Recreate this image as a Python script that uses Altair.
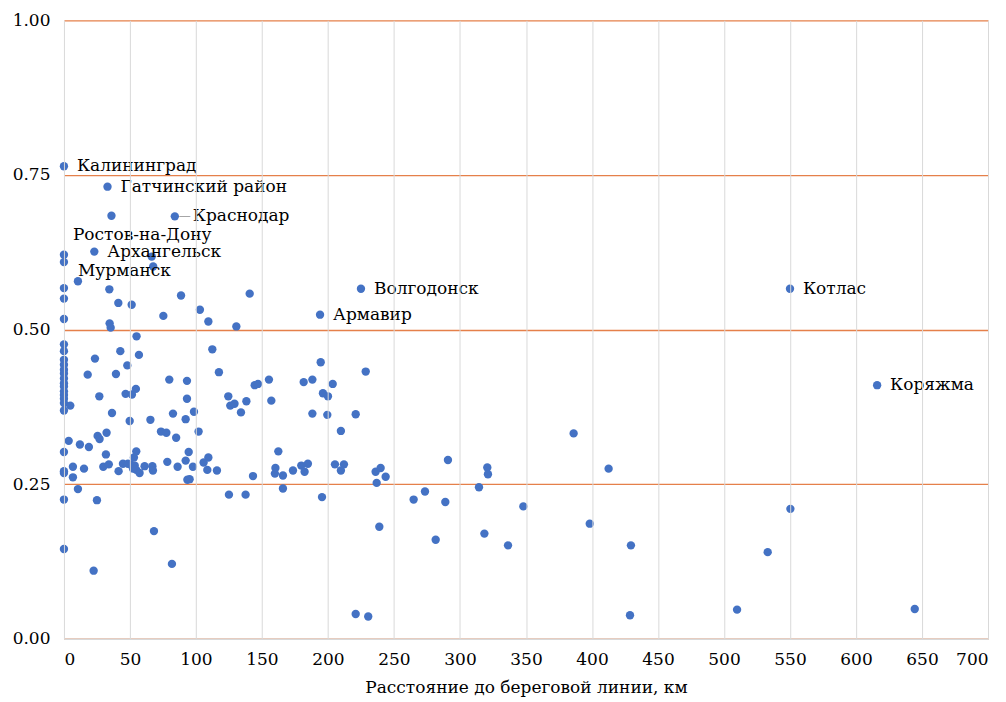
import altair as alt
import pandas as pd

# Labelled cities
lab_names = ["Калининград", "Гатчинский район", "Краснодар", "Ростов-на-Дону", "Мурманск",
             "Архангельск", "Волгодонск", "Армавир", "Котлас", "Коряжма"]
lab_x = [0, 33, 84, 0, 0, 23, 225, 194, 550, 616]
lab_y = [0.764, 0.731, 0.683, 0.621, 0.609, 0.626, 0.566, 0.524, 0.566, 0.410]

# Unlabelled points
pt_x = [0, 0, 0, 0, 0, 0, 0, 0, 0, 0, 0, 0, 0, 0, 0, 0, 0, 0, 0, 0, 0, 0,
        36, 66.5, 67.6, 10.6, 34.4, 41.2, 51.3, 88.7, 140.7, 103, 75.3, 109.4, 130.6, 34.6, 35.4, 55,
        4.8, 3.6, 6.8, 6.8, 10.6, 15.2, 12.1, 18.9, 18, 23.5, 26.8, 25.5, 27, 32.3, 31.8, 29.8, 34, 25,
        36.4, 39.4, 42.7, 48, 46.7, 51.5, 54.5, 56.8, 49.8, 41.4, 44.7, 48.5, 53, 54.8,
        51, 53.6, 54.8, 57.3, 61.1, 67, 67.4, 52.3,
        65.5, 79.8, 73.5, 77.6, 82.6, 85, 78.3, 86.1, 93.2, 93.2, 92.2, 98.5, 102, 94.5, 92.2, 97.7,
        93.5, 95.2, 112.4, 117.4, 109.4, 105.8, 108.6, 115.9, 124.5, 126, 129.2, 138.2, 134.1, 125,
        137.6, 143.2, 144.5, 147, 155.3, 157.1, 162.4, 160.2, 159.8, 165.9, 165.9, 173.5, 179.8,
        182.3, 184.8, 181.6, 188.2, 194.5, 188.2, 195.5, 196.2, 200, 199.5, 203.6, 221, 209.8,
        205.3, 212.1, 209.8, 228.6,
        386.1, 290.9, 236.1, 239.9, 243.7, 236.9, 238.9, 221, 230.5, 264.9, 273.5, 288.9, 281.6,
        314.4, 320.7, 321.2, 318.5, 336.4, 348, 398.3, 412.6, 429.5, 428.8,
        550.3, 533.1, 509.9, 644.5, 68.2, 22.5, 81.8]
pt_y = [0.567, 0.550, 0.517, 0.476, 0.465, 0.451, 0.443, 0.435, 0.429, 0.421, 0.413, 0.408,
        0.400, 0.394, 0.388, 0.381, 0.369, 0.302, 0.271, 0.268, 0.225, 0.145,
        0.684, 0.618, 0.602, 0.578, 0.565, 0.543, 0.540, 0.555, 0.558, 0.532, 0.522, 0.513, 0.505,
        0.510, 0.503, 0.489,
        0.377, 0.320, 0.278, 0.261, 0.242, 0.275, 0.314, 0.310, 0.427, 0.453, 0.392, 0.328, 0.323,
        0.333, 0.298, 0.278, 0.282, 0.224,
        0.365, 0.428, 0.465, 0.442, 0.396, 0.395, 0.404, 0.459, 0.352, 0.271, 0.283, 0.283, 0.293, 0.303,
        0.281, 0.280, 0.273, 0.268, 0.279, 0.279, 0.272, 0.275,
        0.354, 0.419, 0.335, 0.333, 0.364, 0.325, 0.286, 0.278, 0.417, 0.388, 0.355, 0.367, 0.335,
        0.302, 0.288, 0.278,
        0.257, 0.258, 0.468, 0.431, 0.293, 0.285, 0.273, 0.272, 0.392, 0.377, 0.380, 0.384, 0.366, 0.233,
        0.233, 0.263, 0.410, 0.412, 0.419, 0.385, 0.303, 0.276, 0.267, 0.264, 0.243, 0.272, 0.280,
        0.270, 0.283, 0.415, 0.419, 0.447, 0.364, 0.229, 0.397, 0.392, 0.362, 0.412, 0.363, 0.336,
        0.282, 0.282, 0.272, 0.432,
        0.332, 0.289, 0.270, 0.276, 0.262, 0.252, 0.181, 0.040, 0.036, 0.225, 0.238, 0.221, 0.160,
        0.245, 0.277, 0.266, 0.170, 0.151, 0.214, 0.186, 0.275, 0.151, 0.038,
        0.210, 0.140, 0.047, 0.048, 0.174, 0.110, 0.121]

x_ticks = list(range(0, 701, 50))
y_ticks = [0, 0.25, 0.5, 0.75, 1.0]

FONT = "DejaVu Serif"
FS = 17
BLUE = "#4472C4"
ORANGE = "#E5804A"
GRAY = "#D9D9D9"

pts = pd.DataFrame({"x": pt_x + lab_x, "y": pt_y + lab_y})
labs = pd.DataFrame({"x": lab_x, "y": lab_y, "name": lab_names})

xs = alt.Scale(domain=[0, 700], nice=False, zero=False)
ys = alt.Scale(domain=[0, 1], nice=False)

xenc = alt.X("x:Q", scale=xs,
             axis=alt.Axis(values=x_ticks, title="Расстояние до береговой линии, км",
                           grid=True, gridColor=GRAY, gridWidth=1, ticks=False,
                           domainColor=GRAY, domainWidth=1.5, labelPadding=13,
                           titlePadding=12, zindex=1))
yenc = alt.Y("y:Q", scale=ys,
             axis=alt.Axis(values=y_ticks, format=".2f", title=None, grid=True,
                           gridColor=ORANGE, gridWidth=1.3, ticks=False, domain=False,
                           labelPadding=14))

points = alt.Chart(pts).mark_circle(size=70, color=BLUE, opacity=1).encode(x=xenc, y=yenc)

main_names = ["Калининград", "Гатчинский район", "Архангельск", "Волгодонск", "Армавир",
              "Котлас", "Коряжма"]
text_main = alt.Chart(labs).transform_filter(
    alt.FieldOneOfPredicate(field="name", oneOf=main_names)
).mark_text(align="left", baseline="middle", dx=13, font=FONT, fontSize=FS, color="#000000").encode(
    x=alt.X("x:Q", scale=xs), y=alt.Y("y:Q", scale=ys), text="name:N")

text_kr = alt.Chart(labs).transform_filter(alt.datum.name == "Краснодар").mark_text(
    align="left", baseline="middle", dx=18, font=FONT, fontSize=FS, color="#000000").encode(
    x=alt.X("x:Q", scale=xs), y=alt.Y("y:Q", scale=ys), text="name:N")
lead_kr = alt.Chart(labs).transform_filter(alt.datum.name == "Краснодар").mark_text(
    align="left", baseline="middle", dx=4, text="—", font=FONT, fontSize=12, color="#A6A6A6").encode(
    x=alt.X("x:Q", scale=xs), y=alt.Y("y:Q", scale=ys))

text_ro = alt.Chart(labs).transform_filter(alt.datum.name == "Ростов-на-Дону").mark_text(
    align="left", baseline="middle", dx=9, dy=-20, font=FONT, fontSize=FS, color="#000000").encode(
    x=alt.X("x:Q", scale=xs), y=alt.Y("y:Q", scale=ys), text="name:N")
text_mu = alt.Chart(labs).transform_filter(alt.datum.name == "Мурманск").mark_text(
    align="left", baseline="middle", dx=14, dy=9, font=FONT, fontSize=FS, color="#000000").encode(
    x=alt.X("x:Q", scale=xs), y=alt.Y("y:Q", scale=ys), text="name:N")

chart = alt.layer(points, lead_kr, text_main, text_kr, text_ro, text_mu).properties(
    width=925, height=619,
    autosize=alt.AutoSizeParams(type="none"),
    padding={"left": 56, "top": 12, "right": 10, "bottom": 60},
).configure_view(stroke=None).configure_axis(
    labelFont=FONT, labelFontSize=FS, labelColor="#000000",
    titleFont=FONT, titleFontSize=FS, titleColor="#000000", titleFontWeight="normal"
)

chart.save("out.html", embed_options={"renderer": "svg", "actions": False})
